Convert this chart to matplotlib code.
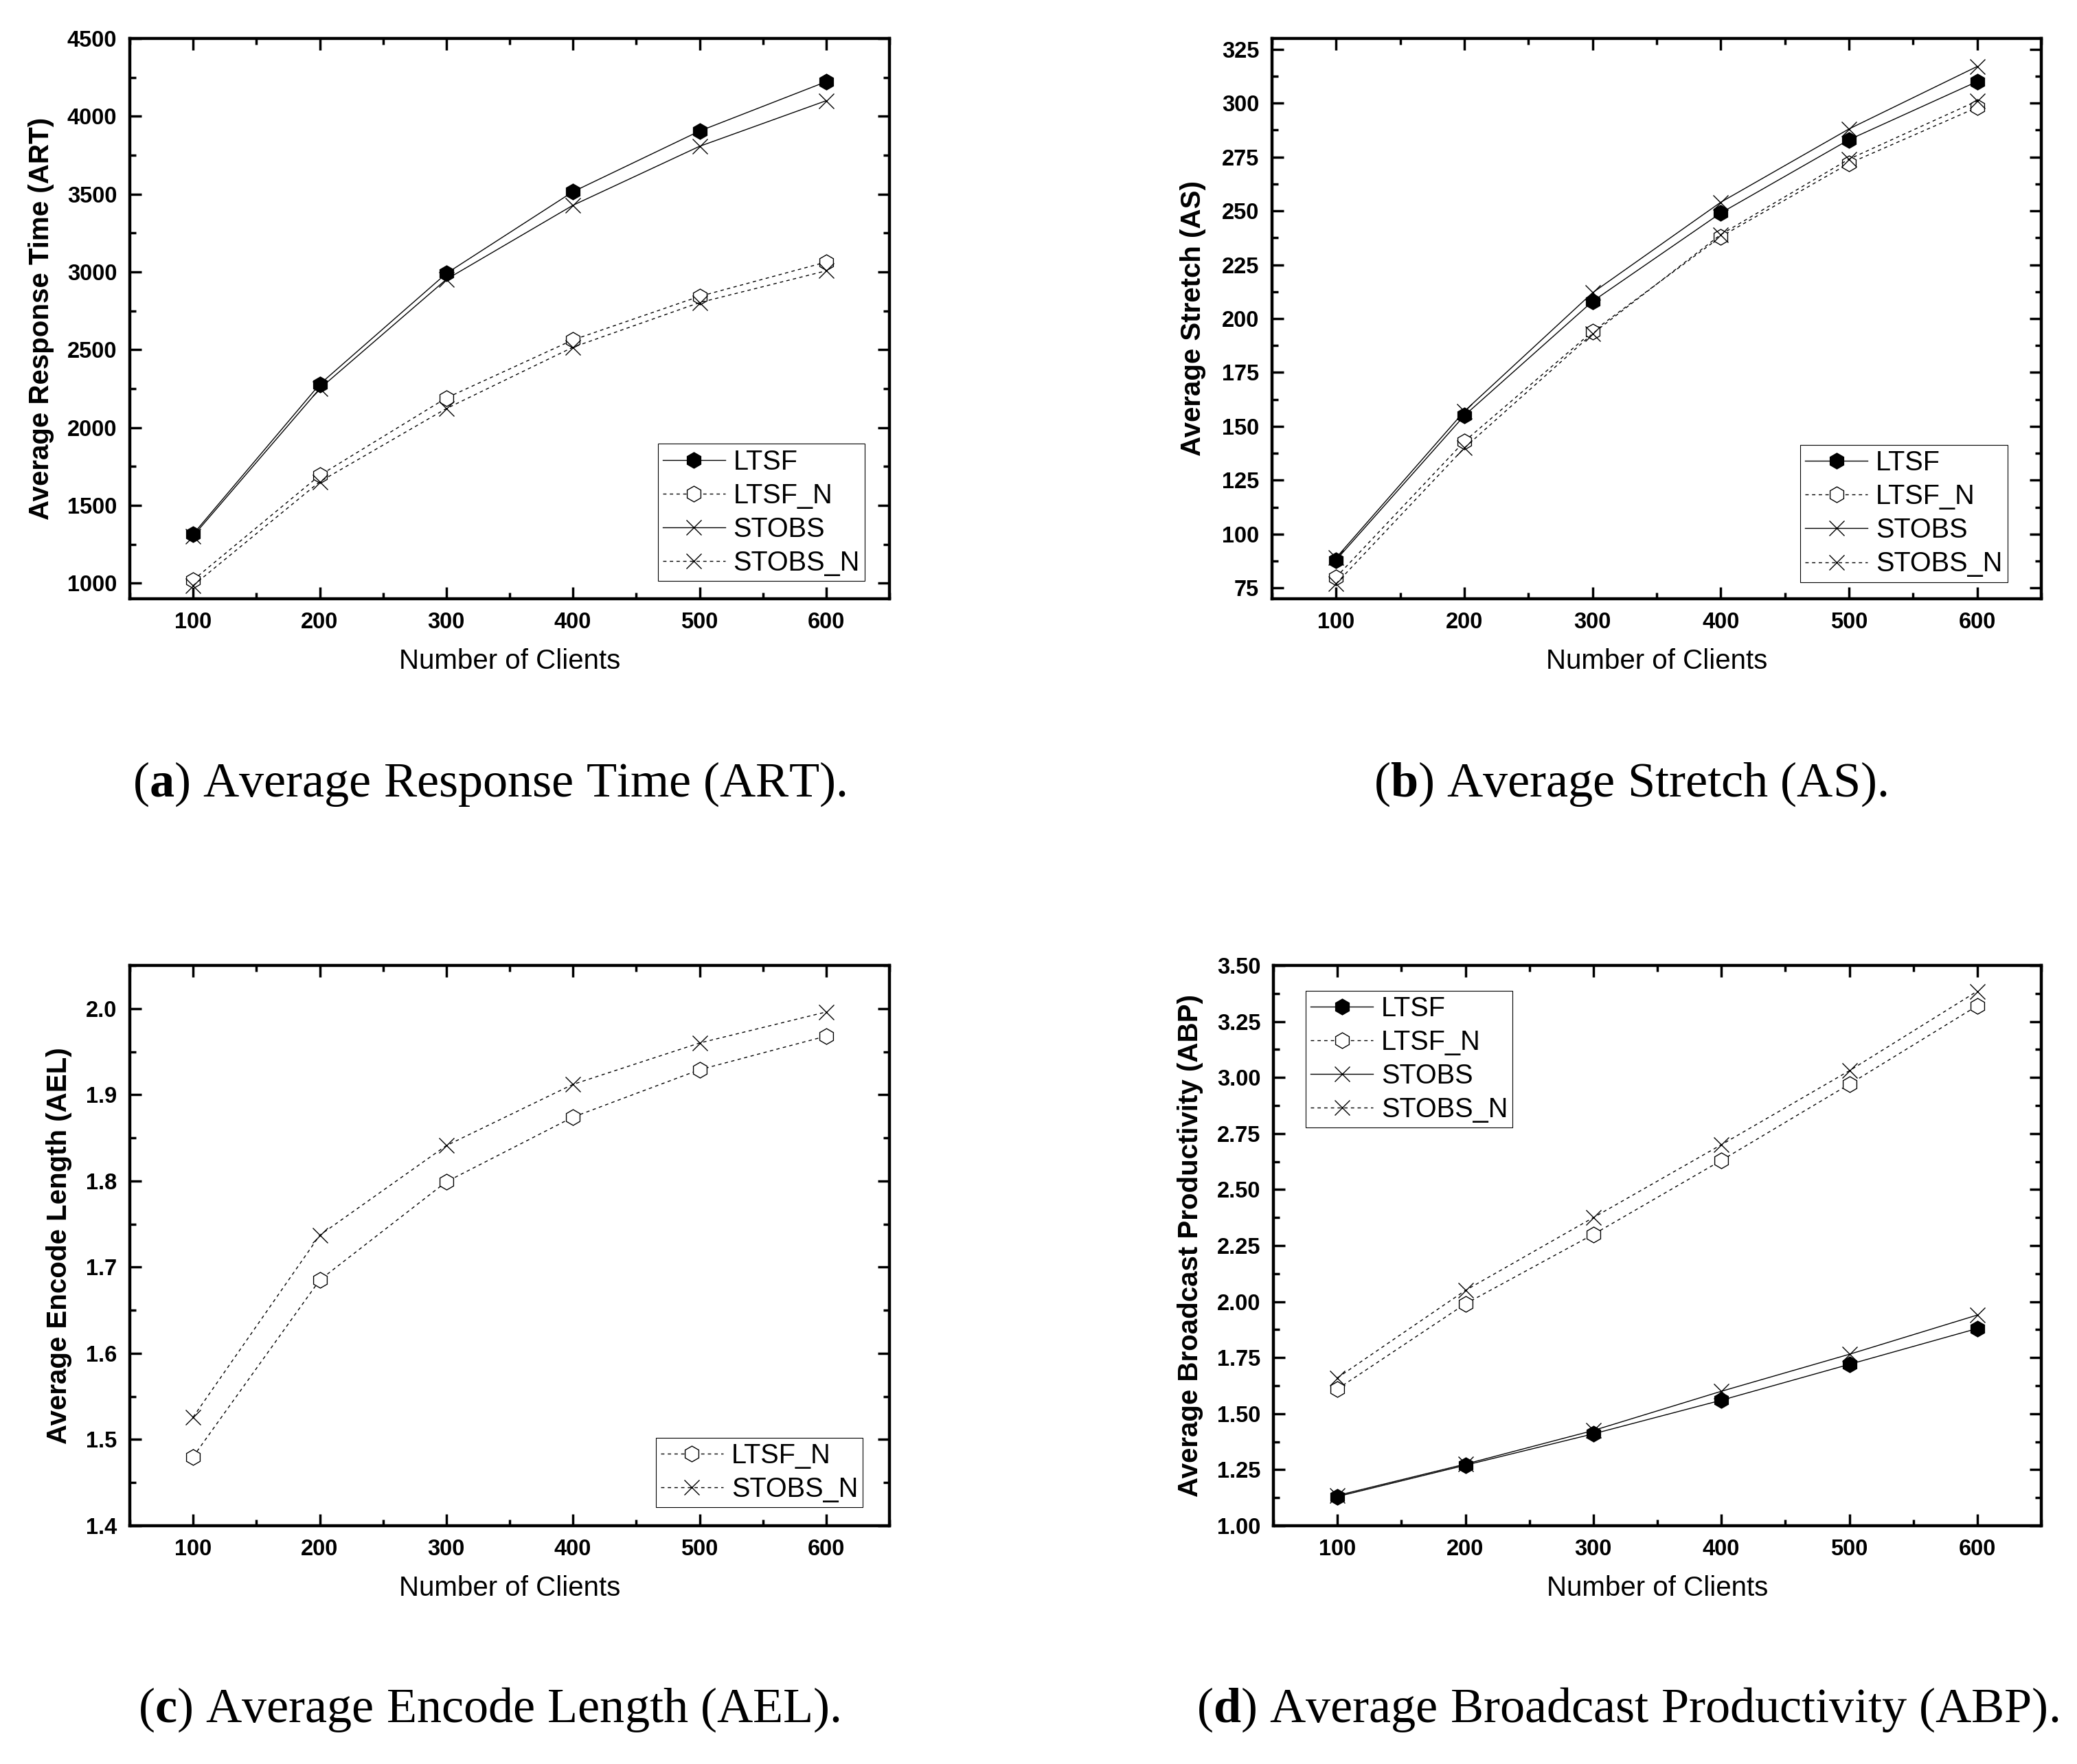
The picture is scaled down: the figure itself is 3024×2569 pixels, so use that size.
import matplotlib
matplotlib.use("Agg")
import matplotlib.pyplot as plt
from matplotlib.ticker import MultipleLocator, FormatStrFormatter

plt.rcParams["font.family"] = ["Liberation Sans", "DejaVu Sans"]
plt.rcParams["mathtext.fontset"] = "custom"
plt.rcParams["mathtext.bf"] = "Liberation Serif:bold"
plt.rcParams["mathtext.rm"] = "Liberation Serif"

# data
clients = [100, 200, 300, 400, 500, 600]

art_ltsf = [1315, 2278, 2990, 3515, 3905, 4222]
art_ltsf_n = [1020, 1693, 2190, 2563, 2843, 3063]
art_stobs = [1303, 2250, 2952, 3428, 3807, 4100]
art_stobs_n = [985, 1652, 2122, 2516, 2803, 3007]

as_ltsf = [88, 155, 208, 249, 283, 310]
as_ltsf_n = [80, 143, 194, 238, 272, 298]
as_stobs = [89, 157, 212, 254, 288, 317]
as_stobs_n = [77, 140, 193, 239, 274, 301]

ael_ltsf_n = [1.480, 1.685, 1.799, 1.874, 1.929, 1.968]
ael_stobs_n = [1.526, 1.737, 1.841, 1.912, 1.960, 1.996]

abp_ltsf = [1.13, 1.27, 1.41, 1.56, 1.72, 1.88]
abp_ltsf_n = [1.61, 1.99, 2.30, 2.63, 2.97, 3.32]
abp_stobs = [1.135, 1.275, 1.425, 1.60, 1.765, 1.94]
abp_stobs_n = [1.66, 2.05, 2.375, 2.70, 3.03, 3.385]

W, H = 3024, 2569
fig = plt.figure(figsize=(W / 100, H / 100), dpi=100)


def make_axes(left, right, top, bottom):
    """Axes from pixel edges of the reference."""
    return fig.add_axes([left / W, 1 - bottom / H, (right - left) / W, (bottom - top) / H])


def plot_series(ax, y, name):
    ms = 16.5
    if name == "LTSF":
        ax.plot(clients, y, "-", color="black", lw=1.0, marker="h", ms=ms,
                mfc="black", mec="black", mew=1.0, label=name)
    elif name == "LTSF_N":
        ax.plot(clients, y, "--", color="black", lw=1.0, dashes=(3.5, 3.5), marker="h",
                ms=ms, mfc="white", mec="black", mew=1.0, label=name)
    elif name == "STOBS":
        ax.plot(clients, y, "-", color="black", lw=1.0, marker="x", ms=ms,
                mec="black", mew=1.0, label=name)
    else:
        ax.plot(clients, y, "--", color="black", lw=1.0, dashes=(3.5, 3.5), marker="x",
                ms=ms, mec="black", mew=1.0, label=name)


def style_axes(ax, ylim, ymajor, fmt, ylabel, ylab_x):
    ax.set_xlim(50, 650)
    ax.set_ylim(*ylim)
    ax.xaxis.set_major_locator(MultipleLocator(100))
    ax.xaxis.set_minor_locator(MultipleLocator(50))
    ax.yaxis.set_major_locator(MultipleLocator(ymajor))
    ax.yaxis.set_minor_locator(MultipleLocator(ymajor / 2))
    ax.yaxis.set_major_formatter(FormatStrFormatter(fmt))
    for s in ax.spines.values():
        s.set_linewidth(3.2)
    ax.tick_params(which="both", direction="in", top=True, right=True, width=2.5)
    ax.tick_params(which="major", length=12)
    ax.tick_params(which="minor", length=6.5)
    ax.tick_params(axis="x", which="major", pad=14, labelsize=23.5)
    ax.tick_params(axis="y", which="major", pad=13.5, labelsize=23.5)
    for lab in ax.get_xticklabels() + ax.get_yticklabels():
        lab.set_fontweight("bold")
    ax.set_xlabel("Number of Clients", fontsize=29, va="center")
    ax.xaxis.set_label_coords(0.5, -0.1115)
    ax.set_ylabel(ylabel, fontsize=29, fontweight="bold", va="center")
    ax.yaxis.set_label_coords(ylab_x, 0.5)


def add_legend(ax, loc, anchor):
    leg = ax.legend(loc=loc, bbox_to_anchor=anchor, borderaxespad=0, fontsize=28.5,
                    numpoints=1, handlelength=2.3, handletextpad=0.3,
                    labelspacing=0.28, borderpad=0.18, fancybox=False,
                    framealpha=1, edgecolor="black")
    leg.get_frame().set_linewidth(0.8)


def caption(xc, yb, letter, text):
    fig.text(xc / W, 1 - yb / H, "($\\mathbf{" + letter + "}$) " + text,
             family="Liberation Serif", fontsize=52, ha="center", va="baseline")


# (a) ART
ax = make_axes(189, 1295, 56, 872)
plot_series(ax, art_ltsf, "LTSF")
plot_series(ax, art_ltsf_n, "LTSF_N")
plot_series(ax, art_stobs, "STOBS")
plot_series(ax, art_stobs_n, "STOBS_N")
style_axes(ax, (900, 4500), 500, "%d", "Average Response Time (ART)", -0.117)
add_legend(ax, "lower right", (0.9675, 0.032))

# (b) AS
ax = make_axes(1852, 2972, 56, 872)
plot_series(ax, as_ltsf, "LTSF")
plot_series(ax, as_ltsf_n, "LTSF_N")
plot_series(ax, as_stobs, "STOBS")
plot_series(ax, as_stobs_n, "STOBS_N")
style_axes(ax, (70, 330), 25, "%d", "Average Stretch (AS)", -0.103)
add_legend(ax, "lower right", (0.956, 0.03))

# (c) AEL
ax = make_axes(189, 1295, 1406, 2222)
plot_series(ax, ael_ltsf_n, "LTSF_N")
plot_series(ax, ael_stobs_n, "STOBS_N")
style_axes(ax, (1.4, 2.05), 0.1, "%.1f", "Average Encode Length (AEL)", -0.093)
add_legend(ax, "lower right", (0.965, 0.033))

# (d) ABP
ax = make_axes(1854, 2972, 1406, 2222)
plot_series(ax, abp_ltsf, "LTSF")
plot_series(ax, abp_ltsf_n, "LTSF_N")
plot_series(ax, abp_stobs, "STOBS")
plot_series(ax, abp_stobs_n, "STOBS_N")
style_axes(ax, (1.0, 3.5), 0.25, "%.2f", "Average Broadcast Productivity (ABP)", -0.108)
add_legend(ax, "upper left", (0.042, 0.955))

caption(712, 1160, "a", "Average Response Time (ART).")
caption(2374, 1160, "b", "Average Stretch (AS).")
caption(712, 2508, "c", "Average Encode Length (AEL).")
caption(2370, 2508, "d", "Average Broadcast Productivity (ABP).")

fig.savefig("out.png", dpi=100, facecolor="white")
